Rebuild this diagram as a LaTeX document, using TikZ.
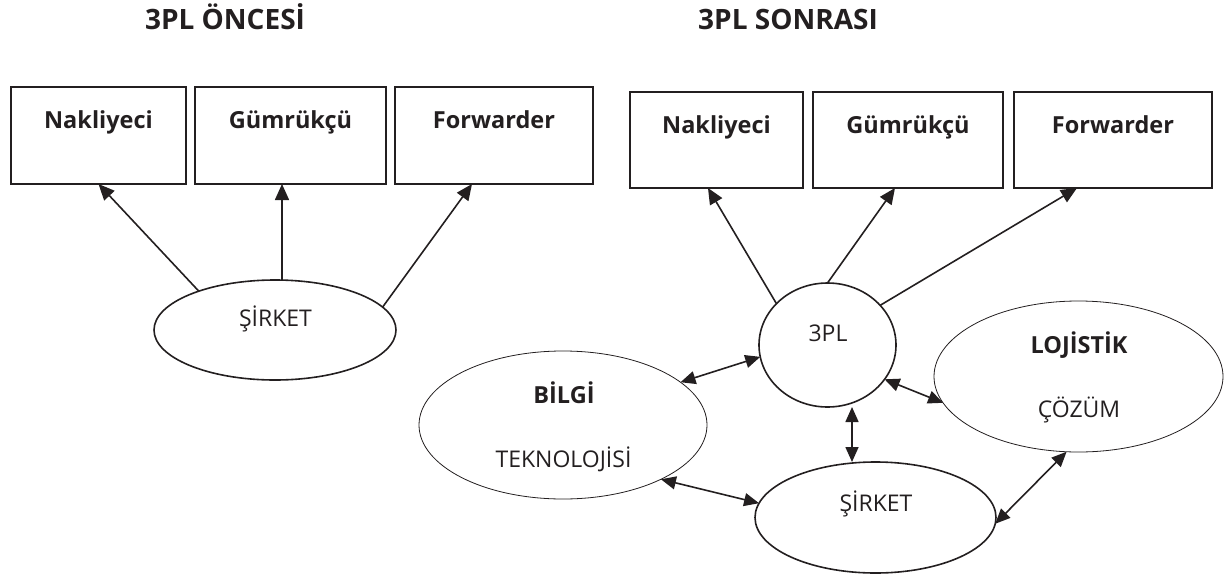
\documentclass[tikz,border=0pt]{standalone}
\usepackage{fontspec}
\setmainfont{Open Sans}
\usetikzlibrary{arrows.meta,shapes.geometric,calc}
\definecolor{ink}{HTML}{231F20}
\tikzset{
  boxnode/.style={draw=ink, line width=1.7pt, rectangle, inner sep=0pt, outer sep=0pt},
  ovalthick/.style={draw=ink, line width=1.6pt, ellipse, inner sep=0pt, outer sep=0pt},
  ovalthin/.style={draw=ink, line width=0.8pt, ellipse, inner sep=0pt, outer sep=0pt},
  boldlabel/.style={text=ink, inner sep=0pt, anchor=base, font=\fontsize{23.5}{27}\selectfont\bfseries},
  plainlabel/.style={text=ink, inner sep=0pt, anchor=base, font=\fontsize{23}{27}\selectfont},
  titlelabel/.style={text=ink, inner sep=0pt, anchor=base, font=\fontsize{28}{32}\selectfont\bfseries},
  link/.style={draw=ink, line width=1.6pt, -{Triangle[length=16pt,width=14pt]}},
  duplex/.style={draw=ink, line width=1.6pt, {Triangle[length=15pt,width=13pt]}-{Triangle[length=15pt,width=13pt]}}
}
\begin{document}
\begin{tikzpicture}[x=1pt, y=-1pt]
\useasboundingbox (0,0) rectangle (1224,576);

% titles
\node[titlelabel] (tbefore) at (225,29) {3PL ÖNCESİ};
\node[titlelabel] (tafter) at (788,29) {3PL SONRASI};

% before 3PL: service boxes
\node[boxnode, minimum width=175pt, minimum height=97pt] (nak1) at (98.5,135.5) {};
\node[boxnode, minimum width=191pt, minimum height=97pt] (gum1) at (290.5,135.5) {};
\node[boxnode, minimum width=198pt, minimum height=97pt] (fwd1) at (494,135.5) {};
\node[boldlabel] (nak1t) at (98.5,128) {Nakliyeci};
\node[boldlabel] (gum1t) at (290.5,128) {Gümrükçü};
\node[boldlabel] (fwd1t) at (494,128) {Forwarder};

% before 3PL: company
\node[ovalthick, minimum width=242pt, minimum height=100pt] (sirket1) at (275,330) {};
\node[plainlabel] (sirket1t) at (275.5,326) {ŞİRKET};

\draw[link] (sirket1.153.7) -- (nak1.south);
\draw[link] ($(sirket1.north)+(7,0)$) -- ($(gum1.south)+(-8.5,0)$);
\draw[link] (sirket1.12.5) -- ($(fwd1.south)+(-22,0)$);

% after 3PL: service boxes
\node[boxnode, minimum width=173pt, minimum height=96pt] (nak2) at (716.5,140) {};
\node[boxnode, minimum width=190pt, minimum height=96pt] (gum2) at (908,140) {};
\node[boxnode, minimum width=198pt, minimum height=96pt] (fwd2) at (1113,140) {};
\node[boldlabel] (nak2t) at (716.5,133) {Nakliyeci};
\node[boldlabel] (gum2t) at (908,133) {Gümrükçü};
\node[boldlabel] (fwd2t) at (1113,133) {Forwarder};

% after 3PL: partners
\node[ovalthick, minimum width=137pt, minimum height=124pt] (tpl) at (827.5,345) {};
\node[plainlabel] (tplt) at (828,341) {3PL};
\node[ovalthin, minimum width=288pt, minimum height=148pt] (bilgi) at (563,425) {};
\node[boldlabel] (bilgit1) at (564,403) {BİLGİ};
\node[plainlabel] (bilgit2) at (563.5,467) {TEKNOLOJİSİ};
\node[ovalthin, minimum width=289pt, minimum height=151pt] (lojistik) at (1078.5,376.5) {};
\node[boldlabel] (lojt1) at (1079,353) {LOJİSTİK};
\node[plainlabel] (lojt2) at (1079,417) {ÇÖZÜM};
\node[ovalthick, minimum width=241pt, minimum height=111pt] (sirket2) at (875.5,517.5) {};
\node[plainlabel] (sirket2t) at (876,511) {ŞİRKET};

\draw[link] (tpl.141.8) -- ($(nak2.south)+(-8.5,0)$);
\draw[link] (tpl.north) -- ($(gum2.south)+(-13,0)$);
\draw[link] (tpl.37.5) -- ($(fwd2.south)+(-36,0)$);

\draw[duplex] (bilgi.20.6) -- (tpl.190.5);
\draw[duplex] (tpl.329.4) -- (lojistik.191.8);
\draw[duplex] ($(tpl.south)+(24.5,0)$) -- ($(sirket2.north)+(-23.5,0)$);
\draw[duplex] (bilgi.331.4) -- (sirket2.173.6);
\draw[duplex] (sirket2.357.4) -- (lojistik.261.5);
\end{tikzpicture}
\end{document}
